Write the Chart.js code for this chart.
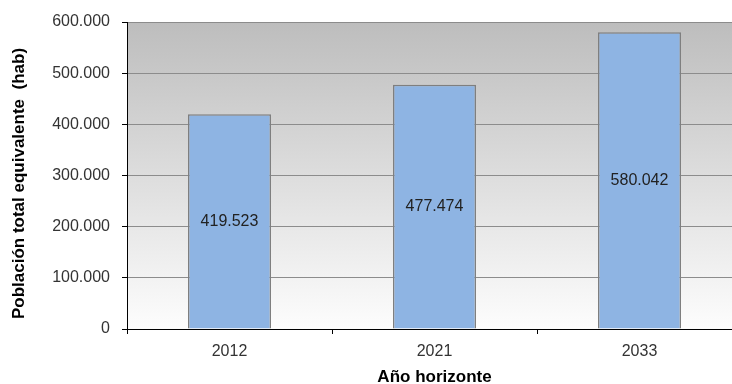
<!DOCTYPE html>
<html lang="es">
<head>
    <meta charset="UTF-8">
    <title>Población total equivalente</title>
    <script src="https://cdn.jsdelivr.net/npm/chart.js"></script>
    <style>
        html, body { margin: 0; padding: 0; background: #fff; overflow: hidden; }
        canvas { display: block; }
    </style>
</head>
<body>
    <canvas id="chart" width="744" height="384"></canvas>
    <script>
        const years = ['2012', '2021', '2033'];
        const population = [419523, 477474, 580042];
        const yTicks = [0, 100000, 200000, 300000, 400000, 500000, 600000];
        const yTitle = 'Población total equivalente  (hab)';

        const FONT = '"Liberation Sans", Arial, sans-serif';

        function formatNumber(v) {
            return String(v).replace(/\B(?=(\d{3})+(?!\d))/g, '.');
        }

        // fondo degradado del área de trazado
        const plotBackground = {
            id: 'plotBackground',
            beforeDraw(chart) {
                const { ctx, chartArea: a } = chart;
                const g = ctx.createLinearGradient(0, a.top, 0, a.bottom);
                g.addColorStop(0, '#bdbdbd');
                g.addColorStop(1, '#fdfdfd');
                ctx.save();
                ctx.fillStyle = g;
                ctx.fillRect(a.left, a.top, a.right - a.left, a.bottom - a.top);
                ctx.restore();
            }
        };

        // etiquetas de valor en el centro de cada barra + título del eje Y
        const barLabels = {
            id: 'barLabels',
            afterDatasetsDraw(chart) {
                const { ctx, chartArea: a } = chart;
                const meta = chart.getDatasetMeta(0);
                ctx.save();
                ctx.font = '16px ' + FONT;
                ctx.fillStyle = '#222';
                ctx.textAlign = 'center';
                ctx.textBaseline = 'middle';
                meta.data.forEach((bar, i) => {
                    const y = (bar.y + bar.base) / 2;
                    ctx.fillText(formatNumber(population[i]), bar.x, y);
                });

                // el título del eje Y va un poco por debajo del centro
                ctx.translate(19, (a.top + a.bottom) / 2 + 8);
                ctx.rotate(-Math.PI / 2);
                ctx.font = 'bold 17px ' + FONT;
                ctx.fillStyle = '#000';
                ctx.fillText(yTitle, 0, 0);
                ctx.restore();
            }
        };

        new Chart(document.getElementById('chart'), {
            type: 'bar',
            data: {
                labels: years,
                datasets: [{
                    data: population,
                    backgroundColor: '#8eb4e3',
                    borderColor: '#7f7f7f',
                    borderWidth: 1.5,
                    barPercentage: 0.405,
                    categoryPercentage: 1
                }]
            },
            options: {
                responsive: false,
                animation: false,
                layout: { padding: { top: 22, right: 2, left: 0, bottom: 0 } },
                plugins: {
                    legend: { display: false },
                    tooltip: { enabled: false }
                },
                scales: {
                    x: {
                        grid: {
                            drawOnChartArea: false,
                            drawTicks: true,
                            tickLength: 5,
                            color: '#000',
                            offset: true
                        },
                        border: { color: '#000', width: 1 },
                        ticks: {
                            color: '#333',
                            padding: 8,
                            font: { family: FONT, size: 16 }
                        },
                        title: {
                            display: true,
                            text: 'Año horizonte',
                            color: '#000',
                            padding: { top: 0, bottom: -4 },
                            font: { family: FONT, size: 17, weight: 'bold' }
                        },
                        afterFit(scale) { scale.height = 55; }
                    },
                    y: {
                        min: 0,
                        max: 600000,
                        afterBuildTicks(scale) {
                            scale.ticks = yTicks.map(v => ({ value: v }));
                        },
                        grid: {
                            color: '#8c8c8c',
                            tickColor: '#000',
                            tickLength: 5,
                            lineWidth: 1
                        },
                        border: { color: '#000', width: 1 },
                        ticks: {
                            color: '#333',
                            padding: 12,
                            font: { family: FONT, size: 16 },
                            callback: v => formatNumber(v)
                        },
                        title: { display: false },
                        afterFit(scale) { scale.width = 127; }
                    }
                }
            },
            plugins: [plotBackground, barLabels]
        });
    </script>
</body>
</html>
